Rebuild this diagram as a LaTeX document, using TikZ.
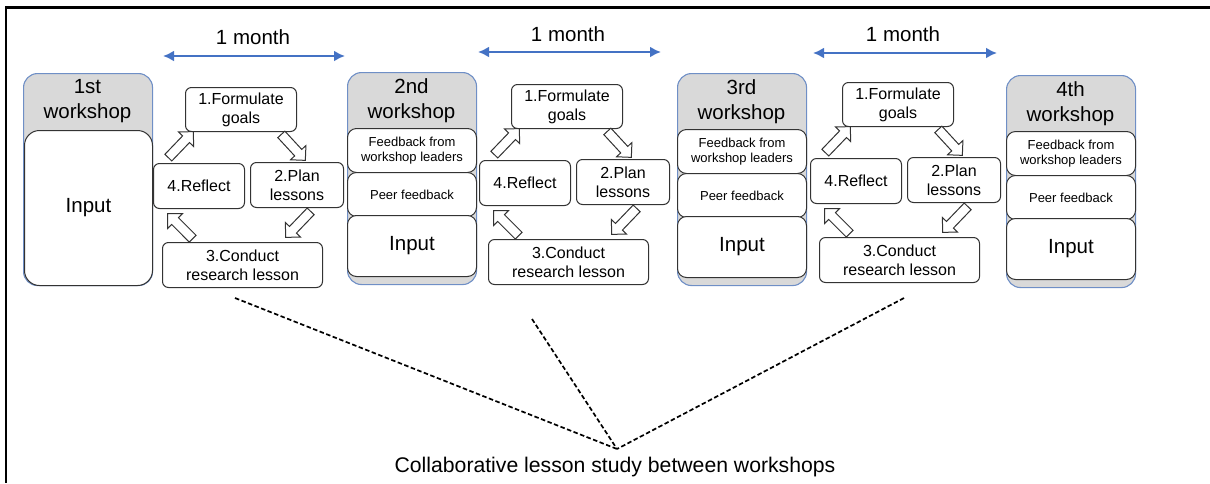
\documentclass[tikz,border=0pt]{standalone}
\usepackage{fontspec}
\setmainfont{Liberation Sans}
\usetikzlibrary{shapes.arrows,calc,arrows.meta}

\definecolor{hdrgray}{HTML}{D9D9D9}
\definecolor{wsblue}{HTML}{6F8FC6}
\definecolor{spanblue}{HTML}{4472C4}
\definecolor{boxline}{HTML}{333333}

\newcommand\wsfont{\fontsize{20.5}{25}\selectfont}
\newcommand\capfont{\fontsize{21.2}{25}\selectfont}
\newcommand\fbfont{\fontsize{13}{15.7}\selectfont}
\newcommand\stepfont{\fontsize{16}{19}\selectfont}

\tikzset{
  frameline/.style={draw=black, line width=2.2},
  wsframe/.style={draw=wsblue, fill=hdrgray, line width=1.1, rounded corners=14,
    anchor=north west, inner sep=0},
  wspart/.style={draw=boxline, fill=white, line width=1, rounded corners=9,
    anchor=north west, inner sep=0, align=center},
  wstitle/.style={inner sep=0, align=center, font=\wsfont},
  stepbox/.style={draw=boxline, fill=white, line width=1, rounded corners=6,
    anchor=north west, inner sep=0, align=center, font=\stepfont},
  blockarr/.style={single arrow, draw=boxline, fill=white, line width=1,
    inner xsep=0, inner ysep=4.3, single arrow head extend=5.7,
    minimum width=1, anchor=tail},
  spanarrow/.style={draw=spanblue, line width=2.6,
    {Latex[length=11pt,width=11pt]}-{Latex[length=11pt,width=11pt]}},
  spanlabel/.style={inner sep=0, font=\wsfont},
  studylink/.style={draw=black, line width=1.7, dash pattern=on 4.5pt off 2.5pt},
}

% hollow block arrow: name, from, to
\newcommand\stepArrow[3]{%
  \path let \p1=($(#3)-(#2)$), \n1={atan2(\y1,\x1)}, \n2={veclen(\x1,\y1)} in
    node[blockarr, rotate=\n1, minimum height=\n2] (#1) at (#2) {};}

% workshop with feedback, peer feedback and input: id, left, top, ordinal
\newcommand\wsBlock[4]{%
  \begin{scope}[shift={(#2,-#3)}]
    \node[wsframe, minimum width=129, minimum height=212] (ws#1) at (0,0) {};
    \node[wstitle] (wsh#1) at (64.5,-28.5) {#4\\workshop};
    \node[wspart, minimum width=129, minimum height=44, font=\fbfont] (fb#1) at (0,-56)
      {Feedback from\\workshop leaders};
    \node[wspart, minimum width=129, minimum height=44, font=\fbfont] (peer#1) at (0,-100)
      {Peer feedback};
    \node[wspart, minimum width=129, minimum height=61, font=\wsfont] (in#1) at (0,-143)
      {Input};
  \end{scope}}

% one lesson-study cycle: id, left and top of the first step
\newcommand\lsCycle[3]{%
  \begin{scope}[shift={(#2,-#3)}]
    \node[stepbox, minimum width=111, minimum height=44] (f#1) at (0,0) {1.Formulate\\goals};
    \node[stepbox, minimum width=91, minimum height=45] (r#1) at (-32,-76) {4.Reflect};
    \node[stepbox, minimum width=93, minimum height=45] (p#1) at (65,-75) {2.Plan\\lessons};
    \node[stepbox, minimum width=160, minimum height=45] (c#1) at (-23,-155)
      {3.Conduct\\research lesson};
    \coordinate (rfA#1) at (-17,-71);  \coordinate (rfB#1) at (8,-45);
    \coordinate (fpA#1) at (96,-47);   \coordinate (fpB#1) at (120,-73);
    \coordinate (pcA#1) at (126,-124); \coordinate (pcB#1) at (101,-150);
    \coordinate (crA#1) at (8,-152);   \coordinate (crB#1) at (-17,-127);
  \end{scope}
  \stepArrow{arF#1}{rfA#1}{rfB#1}
  \stepArrow{arP#1}{fpA#1}{fpB#1}
  \stepArrow{arC#1}{pcA#1}{pcB#1}
  \stepArrow{arR#1}{crA#1}{crB#1}}

\begin{document}
\begin{tikzpicture}[x=1pt,y=1pt]
\useasboundingbox (0,0) rectangle (1210,-483);

% frame edges
\coordinate (frTR) at (1210,-7.5);
\coordinate (frTL) at (6,-7.5);
\coordinate (frBL) at (6,-483);
\draw[frameline] (frTR) -- (frTL) -- (frBL);

% first workshop
\node[wsframe, minimum width=129, minimum height=212] (ws1) at (23,-73) {};
\node[wstitle] (wsh1) at (87.5,-101) {1st\\workshop};
\node[wspart, minimum width=128, minimum height=155, rounded corners=15, font=\wsfont]
  (in1) at (24,-130) {Input};

% later workshops
\wsBlock{2}{347}{72}{2nd}
\wsBlock{3}{677}{73}{3rd}
\wsBlock{4}{1006}{75}{4th}

% lesson-study cycles
\lsCycle{1}{185}{87}
\lsCycle{2}{511}{84}
\lsCycle{3}{842}{82}

% one-month spans
\coordinate (sA1) at (163,-56);  \coordinate (sB1) at (345,-56);
\coordinate (sA2) at (478,-52);  \coordinate (sB2) at (661,-52);
\coordinate (sA3) at (813,-53);  \coordinate (sB3) at (997,-53);
\draw[spanarrow] (sA1) -- (sB1);
\draw[spanarrow] (sA2) -- (sB2);
\draw[spanarrow] (sA3) -- (sB3);
\node[spanlabel] (m1) at (253,-37) {1 month};
\node[spanlabel] (m2) at (568,-34) {1 month};
\node[spanlabel] (m3) at (903,-34) {1 month};

% links to the caption
\coordinate (hub) at (617,-449);
\coordinate (lk1) at (235,-298);
\coordinate (lk2) at (532,-319);
\coordinate (lk3) at (904,-298);
\draw[studylink] (lk1) -- (hub);
\draw[studylink] (lk2) -- (hub);
\draw[studylink] (lk3) -- (hub);
\node[inner sep=0, font=\capfont] (caption) at (615,-467)
  {Collaborative lesson study between workshops};
\end{tikzpicture}
\end{document}
